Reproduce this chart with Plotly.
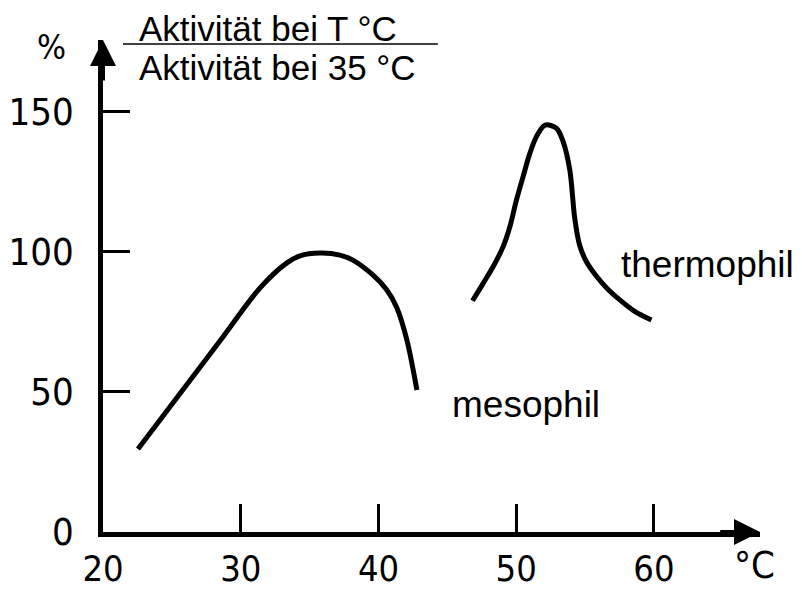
import plotly.graph_objects as go

# mesophil curve (T in °C, activity in %)
meso_t = [22.54, 25.5, 28.5, 31.39, 33.35, 34.30, 35.75, 37.20, 38.14, 39.59, 40.61, 41.34, 42.06, 42.79]
meso_a = [29.6, 48.8, 68.3, 87.1, 96.1, 98.6, 99.6, 98.9, 97.1, 91.8, 86.4, 80.0, 68.6, 50.7]

# thermophil curve
thermo_t = [46.83, 47.60, 48.33, 49.05, 49.54, 50.02, 50.50, 50.99, 51.47, 52.10, 52.92, 53.40,
            53.89, 54.25, 54.60, 55.10, 55.80, 56.60, 57.50, 58.60, 59.82]
thermo_a = [82.6, 88.8, 94.8, 101.9, 109.0, 118.6, 126.9, 135.2, 141.2, 145.3, 144.2, 139.5,
            129.3, 112.0, 102.5, 96.5, 91.5, 87.0, 83.0, 78.8, 75.7]

x_ticks = [20, 30, 40, 50, 60]
y_ticks = [0, 50, 100, 150]

x_max = 67.7
y_max = 175.7

text_font = dict(family='Liberation Sans, Arial', size=37, color='black')
frac_font = dict(text_font, size=35)
tick_font = dict(family='Liberation Sans Narrow, DejaVu Sans Condensed', size=38, color='black')
xtick_font = dict(tick_font, size=36)

fig = go.Figure()
for xs, ys in [(meso_t, meso_a), (thermo_t, thermo_a)]:
    fig.add_trace(go.Scatter(x=xs, y=ys, mode='lines',
                             line=dict(color='black', width=5, shape='spline', smoothing=0.9),
                             showlegend=False, hoverinfo='skip'))

annotations = [
    # axis arrow heads
    dict(x=x_max, y=0, ax=x_max - 3, ay=0, xref='x', yref='y', axref='x', ayref='y',
         text='', showarrow=True, arrowhead=2, arrowsize=1.3, arrowwidth=4, arrowcolor='black'),
    dict(x=20, y=y_max, ax=20, ay=y_max - 15, xref='x', yref='y', axref='x', ayref='y',
         text='', showarrow=True, arrowhead=2, arrowsize=1.3, arrowwidth=4, arrowcolor='black'),
    # axis units
    dict(x=-0.079, y=0.985, xref='paper', yref='paper', text='%', showarrow=False,
         font=dict(family=tick_font['family'], size=34, color='black'),
         xanchor='center', yanchor='middle'),
    dict(x=x_max - 0.4, y=-0.068, xref='x', yref='paper', text='°C', showarrow=False,
         font=tick_font, xanchor='center', yanchor='middle'),
    # fraction label
    dict(x=22.45, y=1.023, xref='x', yref='paper', text='Aktivität bei T °C', showarrow=False,
         font=frac_font, xanchor='left', yanchor='middle'),
    dict(x=22.45, y=0.944, xref='x', yref='paper', text='Aktivität bei 35 °C', showarrow=False,
         font=frac_font, xanchor='left', yanchor='middle'),
    # curve labels
    dict(x=50.7, y=45.7, xref='x', yref='y', text='mesophil', showarrow=False,
         font=text_font, xanchor='center', yanchor='middle'),
    dict(x=63.9, y=95.7, xref='x', yref='y', text='thermophil', showarrow=False,
         font=text_font, xanchor='center', yanchor='middle'),
]

# the page body adds an 8px offset, so the margins are pulled in by that much
fig.update_layout(
    width=802, height=589,
    margin=dict(l=95, r=50, t=32, b=65),
    paper_bgcolor='white', plot_bgcolor='white',
    showlegend=False,
    annotations=annotations,
    shapes=[dict(type='line', xref='x', yref='paper', x0=21.45, x1=44.31, y0=0.992, y1=0.992,
                 line=dict(color='black', width=1.5))],
)
fig.update_xaxes(range=[20, x_max], tickvals=x_ticks, ticks='inside', ticklen=28, tickwidth=2.5,
                 tickcolor='black', showline=True, linewidth=4.5, linecolor='black', automargin=False,
                 showgrid=False, zeroline=False, tickfont=xtick_font, ticklabelstandoff=1)
fig.update_yaxes(range=[0, y_max], tickvals=y_ticks, ticks='inside', ticklen=27, tickwidth=2.5,
                 tickcolor='black', showline=True, linewidth=4.5, linecolor='black', automargin=False,
                 showgrid=False, zeroline=False, tickfont=tick_font, ticklabelstandoff=17)

fig.write_html('out.html')
